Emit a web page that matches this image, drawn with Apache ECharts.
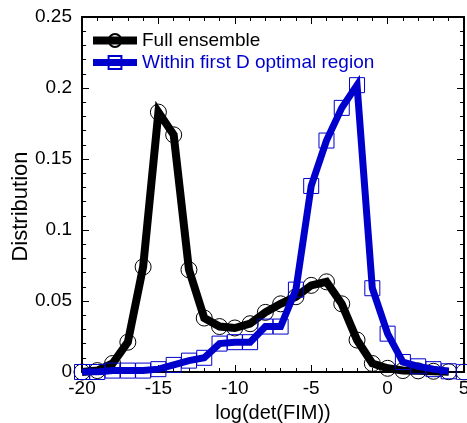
<!DOCTYPE html>
<html>
<head>
<meta charset="utf-8">
<style>
  html, body { margin: 0; padding: 0; background: #fff; }
  #chart { width: 467px; height: 423px; }
</style>
<script src="https://cdn.jsdelivr.net/npm/echarts@6/dist/echarts.min.js"></script>
</head>
<body>
<div id="chart"></div>
<script>
// log(det(FIM)) bin centres
const xValues = [-20, -19, -18, -17, -16, -15, -14, -13, -12, -11, -10, -9, -8, -7, -6, -5, -4, -3, -2, -1, 0, 1, 2, 3, 4, 5];

// Distribution over the full ensemble
const fullEnsemble = [0, 0.001, 0.006, 0.021, 0.074, 0.183, 0.167, 0.072, 0.038, 0.032, 0.031, 0.034, 0.042, 0.048, 0.053, 0.061, 0.0635, 0.048, 0.0225, 0.006, 0.0026, 0.001, 0.0008, 0.0005, 0.0002, 0];

// Distribution within the first D-optimal region
const withinOptimal = [0, 0, 0.001, 0.001, 0.001, 0.002, 0.005, 0.008, 0.010, 0.020, 0.021, 0.021, 0.032, 0.032, 0.058, 0.131, 0.163, 0.186, 0.202, 0.059, 0.027, 0.007, 0.004, 0.002, 0.0005, 0];

const seriesNames = ['Full ensemble', 'Within first D optimal region'];
const blue = '#0000cc';
const font = '"Liberation Sans", Arial, sans-serif';

// the connecting line stops at x = 4; the x = 5 bin is drawn as a marker only
const lineEnd = xValues.indexOf(4) + 1;
const pairs = (ys, from, to) => xValues.slice(from, to).map((x, i) => [x, ys[from + i]]);

const chart = echarts.init(document.getElementById('chart'));

const tickCommon = {
  axisLine: { show: true, onZero: false, lineStyle: { color: '#000', width: 2 } },
  axisTick: { show: true, inside: true, length: 7, lineStyle: { color: '#000', width: 1 } },
  minorTick: { show: true, splitNumber: 5, length: 4, lineStyle: { color: '#000', width: 1 } },
  splitLine: { show: false },
  minorSplitLine: { show: false }
};

chart.setOption({
  animation: false,
  textStyle: { fontFamily: font },
  grid: { left: 82, right: 3, top: 17, bottom: 51, outerBoundsMode: 'none', containLabel: false },
  legend: {
    orient: 'vertical',
    left: 89,
    top: 31,
    itemWidth: 44,
    itemHeight: 16,
    itemGap: 3,
    padding: 0,
    lineStyle: { width: 'inherit' },
    textStyle: { fontSize: 19, fontFamily: font },
    data: [
      { name: seriesNames[0], textStyle: { color: '#000' } },
      { name: seriesNames[1], textStyle: { color: blue } }
    ]
  },
  xAxis: [
    Object.assign({
      type: 'value', position: 'bottom', min: -20, max: 5, interval: 5,
      name: 'log(det(FIM))', nameLocation: 'middle', nameGap: 31, nameMoveOverlap: false,
      nameTextStyle: { fontSize: 20, color: '#000', fontFamily: font },
      axisLabel: { fontSize: 19, color: '#000', margin: 7, fontFamily: font }
    }, tickCommon),
    Object.assign({
      type: 'value', position: 'top', min: -20, max: 5, interval: 5,
      axisLabel: { show: false }
    }, tickCommon)
  ],
  yAxis: [
    Object.assign({
      type: 'value', position: 'left', min: 0, max: 0.25, interval: 0.05,
      name: 'Distribution', nameLocation: 'middle', nameGap: 50, nameMoveOverlap: false,
      nameTextStyle: { fontSize: 22, color: '#000', fontFamily: font, padding: [0, 24, 0, 0] },
      axisLabel: { fontSize: 19, color: '#000', margin: 10, fontFamily: font }
    }, tickCommon),
    Object.assign({
      type: 'value', position: 'right', min: 0, max: 0.25, interval: 0.05,
      axisLabel: { show: false }
    }, tickCommon)
  ],
  series: [
    {
      name: seriesNames[0],
      type: 'line',
      data: pairs(fullEnsemble, 0, lineEnd),
      symbol: 'circle',
      symbolSize: 16,
      showAllSymbol: true,
      lineStyle: { color: '#000', width: 8, join: 'miter' },
      itemStyle: { color: 'transparent', borderColor: '#000', borderWidth: 1 },
      z: 2
    },
    {
      name: seriesNames[1],
      type: 'line',
      data: pairs(withinOptimal, 0, lineEnd),
      symbol: 'rect',
      symbolSize: 15,
      showAllSymbol: true,
      lineStyle: { color: blue, width: 7, join: 'miter' },
      itemStyle: { color: 'transparent', borderColor: blue, borderWidth: 1 },
      z: 3
    },
    {
      type: 'scatter',
      data: pairs(fullEnsemble, lineEnd, xValues.length),
      symbol: 'circle',
      symbolSize: 16,
      itemStyle: { color: 'transparent', borderColor: '#000', borderWidth: 1 },
      z: 2
    },
    {
      type: 'scatter',
      data: pairs(withinOptimal, lineEnd, xValues.length),
      symbol: 'rect',
      symbolSize: 15,
      itemStyle: { color: 'transparent', borderColor: blue, borderWidth: 1 },
      z: 3
    }
  ]
});
</script>
</body>
</html>
